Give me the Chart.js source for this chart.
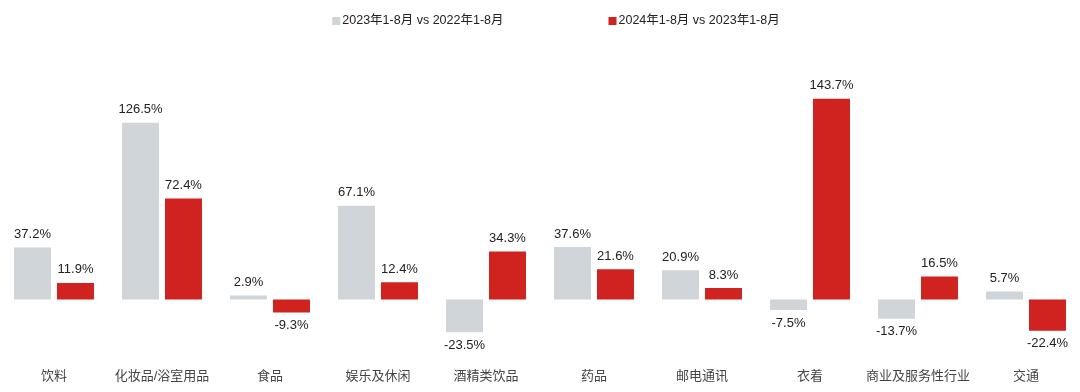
<!DOCTYPE html>
<html>
<head>
<meta charset="utf-8">
<script src="https://cdn.jsdelivr.net/npm/chart.js@4.4.1/dist/chart.umd.min.js"></script>
<style>
  html, body { margin: 0; padding: 0; background: #fff; }
  #wrap { width: 1080px; height: 392px; position: relative; }
</style>
</head>
<body>
<div id="wrap"><canvas id="growthChart"></canvas></div>
<script>
var categories = ['饮料', '化妆品/浴室用品', '食品', '娱乐及休闲', '酒精类饮品', '药品', '邮电通讯', '衣着', '商业及服务性行业', '交通'];
var seriesNames = ['2023年1-8月 vs 2022年1-8月', '2024年1-8月 vs 2023年1-8月'];
var growth2023 = [37.2, 126.5, 2.9, 67.1, -23.5, 37.6, 20.9, -7.5, -13.7, 5.7];
var growth2024 = [11.9, 72.4, -9.3, 12.4, 34.3, 21.6, 8.3, 143.7, 16.5, -22.4];

var FONT = '"Liberation Sans", Arial, "Noto Sans CJK SC", sans-serif';
var GREY = '#cfd5d9';
var RED = '#d0221e';

// value labels on top / below each bar
var valueLabels = {
    id: 'valueLabels',
    afterDatasetsDraw: function(chart) {
        var ctx = chart.ctx;
        ctx.save();
        ctx.font = '13px ' + FONT;
        ctx.fillStyle = '#222';
        ctx.textAlign = 'center';
        ctx.textBaseline = 'middle';
        chart.data.datasets.forEach(function(ds, i) {
            chart.getDatasetMeta(i).data.forEach(function(bar, j) {
                var v = ds.data[j];
                var y = v >= 0 ? bar.y - 13 : bar.y + 13;
                ctx.fillText(v.toFixed(1) + '%', bar.x, y);
            });
        });
        ctx.restore();
    }
};

// simple legend with wide gap between items
var topLegend = {
    id: 'topLegend',
    afterDraw: function(chart) {
        var ctx = chart.ctx;
        ctx.save();
        ctx.font = '12.5px ' + FONT;
        ctx.textBaseline = 'middle';
        var box = 8, gapText = 2, gapItems = 105;
        var widths = seriesNames.map(function(n) { return box + gapText + ctx.measureText(n).width; });
        var total = widths[0] + gapItems + widths[1];
        var x = (chart.width - total) / 2 + 16;
        var y = 21;
        chart.data.datasets.forEach(function(ds, i) {
            ctx.fillStyle = ds.backgroundColor;
            ctx.fillRect(x, y - box / 2, box, box);
            ctx.fillStyle = '#222';
            ctx.fillText(seriesNames[i], x + box + gapText, y);
            x += widths[i] + gapItems;
        });
        ctx.restore();
    }
};

var ctx = document.getElementById('growthChart').getContext('2d');
var growthChart = new Chart(ctx, {
    type: 'bar',
    data: {
        labels: categories,
        datasets: [{
            label: seriesNames[0],
            data: growth2023,
            backgroundColor: GREY,
            categoryPercentage: 0.796,
            barPercentage: 0.86
        }, {
            label: seriesNames[1],
            data: growth2024,
            backgroundColor: RED,
            categoryPercentage: 0.796,
            barPercentage: 0.86
        }]
    },
    options: {
        responsive: true,
        maintainAspectRatio: false,
        animation: false,
        layout: { padding: { top: 90, bottom: 2, left: 0, right: 0 } },
        scales: {
            x: {
                grid: { display: false, drawTicks: false },
                border: { display: false },
                ticks: {
                    padding: 6,
                    color: '#444',
                    font: { size: 13, family: FONT },
                    maxRotation: 0,
                    autoSkip: false
                }
            },
            y: {
                display: false,
                min: -45,
                max: 150
            }
        },
        plugins: {
            legend: { display: false },
            tooltip: { enabled: false }
        }
    },
    plugins: [valueLabels, topLegend]
});
</script>
</body>
</html>
